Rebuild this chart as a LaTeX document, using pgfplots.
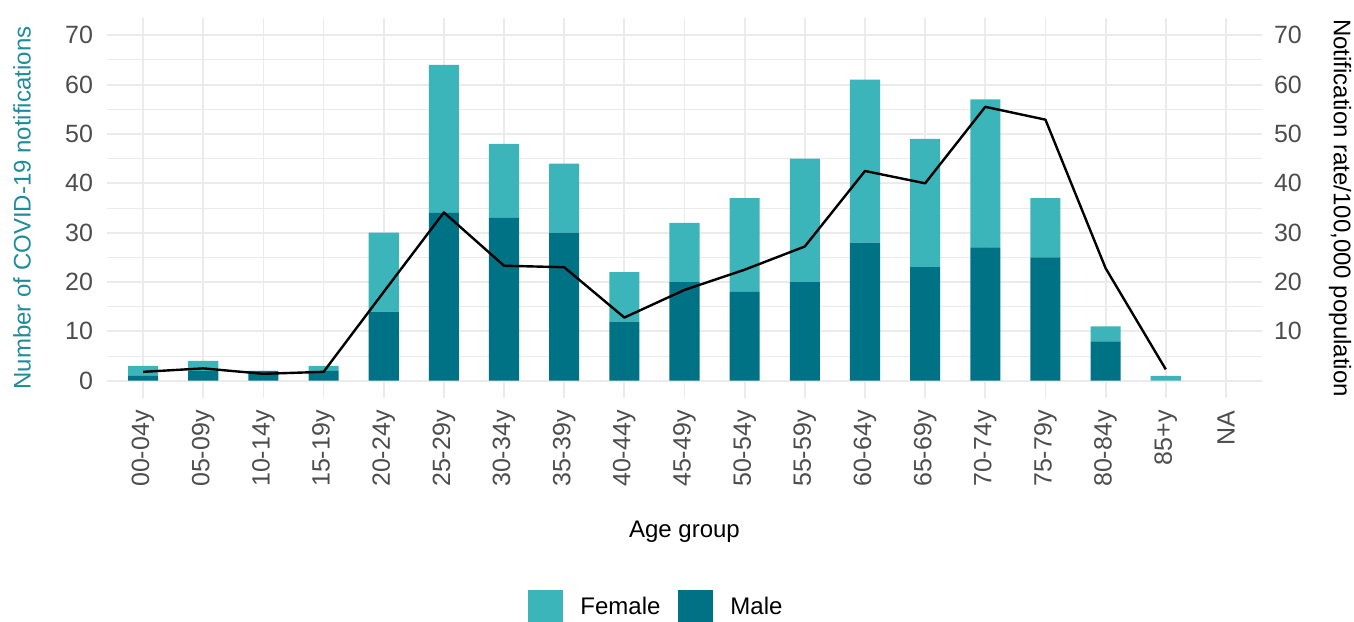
\documentclass[border=0pt]{standalone}
\usepackage{fontspec}
\setmainfont{Liberation Sans}
\usepackage{pgfplots}
\usepackage{pgfplotstable}
\pgfplotsset{compat=1.18}

\definecolor{female}{HTML}{3BB5B9}
\definecolor{male}{HTML}{007285}
\definecolor{gridc}{HTML}{EBEBEB}
\definecolor{tickc}{HTML}{4D4D4D}
\definecolor{titlec}{HTML}{1E8C9B}

% notifications by age group (x = category index)
\pgfplotstableread{
x  male female
0  1  2
1  2  2
2  2  0
3  2  1
4  14 16
5  34 30
6  33 15
7  30 14
8  12 10
9  20 12
10 18 19
11 20 25
12 28 33
13 23 26
14 27 30
15 25 12
16 8  3
17 0  1
}\counts

% notification rate per 100,000
\pgfplotstableread{
x  rate
0  1.8
1  2.5
2  1.4
3  1.8
4  18.0
5  34.1
6  23.3
7  23.0
8  12.8
9  18.4
10 22.5
11 27.2
12 42.5
13 40.0
14 55.5
15 52.9
16 22.8
17 2.3
}\rates

\newcommand{\tickfont}{\fontsize{12.5}{14}\selectfont}
\newcommand{\titlefont}{\fontsize{12}{14}\selectfont}

\begin{document}
\begin{tikzpicture}
\pgfplotsset{
  base/.style={
    width=577.5pt, height=190pt, scale only axis,
    xmin=-0.6, xmax=18.6, ymin=-3.5, ymax=73.5,
    /pgf/number format/assume math mode=true,
    major tick length=0pt, minor tick length=0pt,
    axis line style={draw=none},
    yticklabel style={font=\tickfont, text=tickc},
  },
}
\begin{axis}[base,
  ybar stacked, bar width=0.5,
  xtick={0,...,18},
  xticklabels={00-04y,05-09y,10-14y,15-19y,20-24y,25-29y,30-34y,35-39y,40-44y,
    45-49y,50-54y,55-59y,60-64y,65-69y,70-74y,75-79y,80-84y,85+y,NA},
  xticklabel style={rotate=90, anchor=east, font=\tickfont, text=tickc, inner xsep=6pt},
  ytick={0,10,...,70},
  minor ytick={5,15,...,65},
  yticklabel style={xshift=-3.5pt},
  xmajorgrids, ymajorgrids, yminorgrids,
  major grid style={draw=gridc, line width=0.9pt},
  minor grid style={draw=gridc, line width=0.5pt},
  xlabel={Age group},
  xlabel style={at={(axis description cs:0.5,-0.3526)}, anchor=center, font=\titlefont},
  ylabel={Number of COVID-19 notifications},
  ylabel style={at={(axis description cs:-0.0736,0.5)}, anchor=center, font=\titlefont, text=titlec},
  legend columns=2, reverse legend,
  legend style={at={(axis description cs:0.4766,-0.55)}, anchor=center,
    draw=none, fill=none, font=\titlefont,
    /tikz/every odd column/.append style={column sep=6.5pt},
    /tikz/every even column/.append style={column sep=7pt}},
]
\addplot[fill=male, draw=none,
  legend image code/.code={\fill[male] (0pt,-8.75pt) rectangle (17.5pt,8.75pt);}]
  table[x=x, y=male]{\counts};
\addlegendentry{Male}
\addplot[fill=female, draw=none,
  legend image code/.code={\fill[female] (0pt,-8.75pt) rectangle (17.5pt,8.75pt);}]
  table[x=x, y=female]{\counts};
\addlegendentry{Female}
\end{axis}

\begin{axis}[base,
  axis x line=none, axis y line*=right,
  ytick={10,20,...,70},
  yticklabel style={xshift=2.5pt},
  every axis y label/.style={at={(axis description cs:1.0675,0.5)}, rotate=-90,
    anchor=center, font=\titlefont},
  ylabel={Notification rate/100,000 population},
]
\addplot[black, line width=1.2pt, line join=round, mark=none] table[x=x, y=rate]{\rates};
\end{axis}

\pgfresetboundingbox
\path[use as bounding box] (-53.5pt,-111.5pt) rectangle (623.5pt,199pt);
\end{tikzpicture}
\end{document}
